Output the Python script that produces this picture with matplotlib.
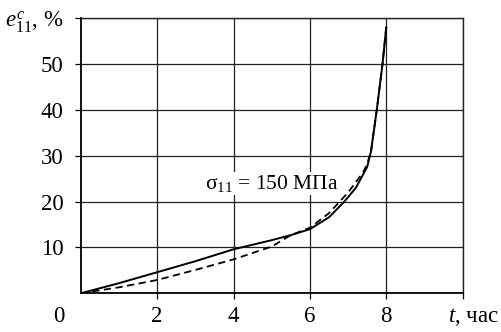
import matplotlib
matplotlib.use('Agg')
import matplotlib.pyplot as plt

plt.rcParams['font.family'] = ['Liberation Serif', 'DejaVu Serif']
plt.rcParams['mathtext.fontset'] = 'custom'
plt.rcParams['mathtext.rm'] = 'Liberation Serif'
plt.rcParams['mathtext.it'] = 'Liberation Serif:italic'

# data
t_solid = [0, 1, 2, 3, 4, 5, 5.5, 6, 6.5, 6.9, 7.2, 7.5, 7.6, 7.75, 7.9, 8.0]
e_solid = [0, 2.2, 4.6, 7.0, 9.6, 11.6, 12.7, 14.0, 16.6, 20.0, 23.0, 27.6, 31.0, 40.0, 50.0, 58.2]

t_dash = [0, 1, 2, 3, 4, 5, 5.5, 6, 6.5, 7, 7.4, 7.5, 7.6, 7.75, 7.9, 8.0]
e_dash = [0, 1.3, 2.9, 5.1, 7.4, 10.2, 12.7, 14.3, 17.5, 22.0, 26.5, 28.3, 31.0, 40.0, 50.0, 58.2]

x_ticks = [2, 4, 6, 8]
y_ticks = [10, 20, 30, 40, 50, 60]
y_labels = ['10', '20', '30', '40', '50', r'$e_{11}^{c}$, %']

fig = plt.figure(figsize=(5.02, 3.32), dpi=100)
ax = fig.add_axes([0.1608, 0.1166, 0.7609, 0.8277])

ax.plot(t_solid, e_solid, color='black', lw=1.4, solid_capstyle='butt')
ax.plot(t_dash, e_dash, color='black', lw=1.3, dashes=(4, 2.5))

ax.set_xlim(0, 10)
ax.set_ylim(0, 60)
ax.set_xticks(x_ticks + [10])
ax.set_xticklabels([str(v) for v in x_ticks] + [''])
ax.set_yticks(y_ticks)
ax.set_yticklabels(y_labels)
ax.grid(True, color='#222222', lw=0.9)
ax.tick_params(direction='out', length=4, width=0.9, labelsize=16.5)
ax.tick_params(axis='x', pad=5.5)
ax.tick_params(axis='y', pad=8.5)
for s in ax.spines.values():
    s.set_linewidth(1.0)
    s.set_color('#222222')
ax.spines['left'].set_color('black')
ax.spines['bottom'].set_color('black')
ax.spines['left'].set_linewidth(1.3)
ax.spines['bottom'].set_linewidth(1.3)

# corner zero and time axis caption
ax.annotate('0', xy=(0, 0), xytext=(-16, -9.5), textcoords='offset points',
            ha='center', va='top', fontsize=16.5, annotation_clip=False)
ax.annotate(r'$t$, час', xy=(10, 0), xytext=(7.5, -9.5), textcoords='offset points',
            ha='center', va='top', fontsize=16.5, annotation_clip=False)

ax.text(3.25, 24, r'$\mathregular{\sigma_{11}}$ = 150 МПа', fontsize=15.5,
        ha='left', va='center',
        bbox=dict(facecolor='white', edgecolor='none', pad=0.5))

fig.savefig('out.png', dpi=100)
